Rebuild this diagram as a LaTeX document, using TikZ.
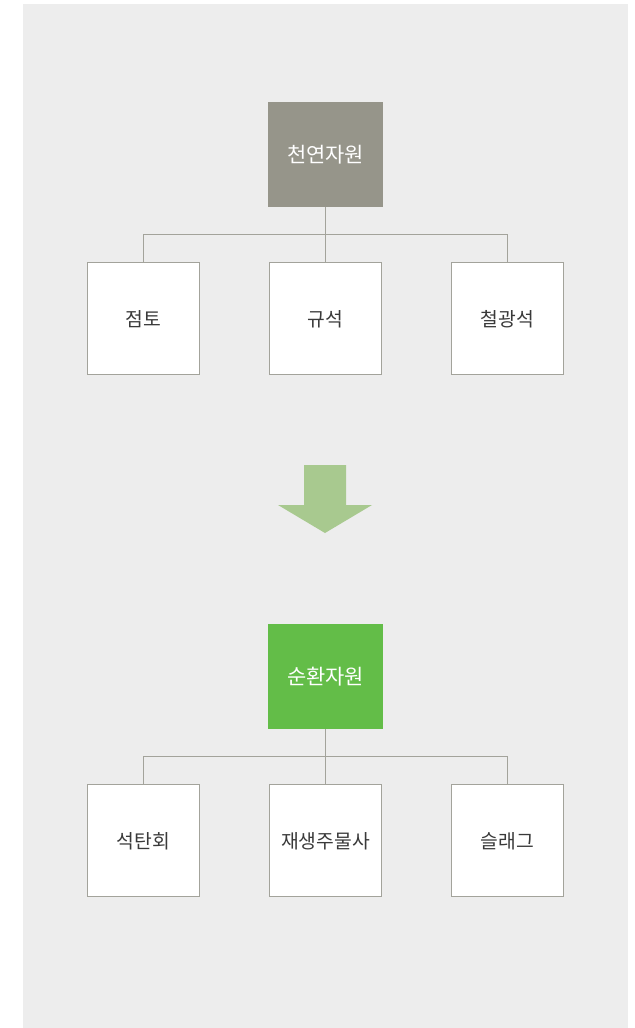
\documentclass[tikz,border=0pt]{standalone}
\usepackage{fontspec}
\setmainfont{Noto Sans CJK KR}
\usetikzlibrary{positioning,calc}
\definecolor{resbg}{HTML}{EDEDED}
\definecolor{resgray}{HTML}{96958A}
\definecolor{resgreen}{HTML}{63BD48}
\definecolor{resarrow}{HTML}{A8C98F}
\definecolor{resline}{HTML}{A3A39B}
\definecolor{resink}{HTML}{3A3A3A}
\tikzset{
  bx/.style={inner sep=0pt, align=center},
  head/.style={bx, minimum width=2.3cm, minimum height=2.1cm, font=\fontsize{11.9}{14}\selectfont, text=white},
  natural/.style={head, fill=resgray},
  recycled/.style={head, fill=resgreen},
  leaf/.style={bx, minimum width=2.24cm, minimum height=2.24cm, draw=resline, fill=white, line width=0.6pt, font=\fontsize{11}{13}\selectfont, text=resink},
  link/.style={draw=resline, line width=0.6pt},
}

\begin{document}
\begin{tikzpicture}[x=0.02cm, y=-0.02cm, node distance=1.1cm and 1.38cm]
  \useasboundingbox (0,0) rectangle (635,1028);
  \fill[resbg] (23,4) rectangle (628,1028);
  % upper tree
  \node[natural] (nat) at (325.5,154.5) {천연자원};
  \node[leaf, below=of nat] (n2) {규석};
  \node[leaf, left=of n2] (n1) {점토};
  \node[leaf, right=of n2] (n3) {철광석};
  \coordinate (nbar) at ($(nat.south)!0.5!(n2.north)$);
  \draw[link] (nat.south) -- (n2.north);
  \draw[link] (n1.north) |- (nbar) -| (n3.north);
  % arrow
  \fill[resarrow] (304,465) -- (346,465) -- (346,505) -- (372,505) -- (325,533)
    -- (278,505) -- (304,505) -- cycle;
  % lower tree
  \node[recycled] (rec) at (325.5,676.5) {순환자원};
  \node[leaf, below=of rec] (r2) {재생주물사};
  \node[leaf, left=of r2] (r1) {석탄회};
  \node[leaf, right=of r2] (r3) {슬래그};
  \coordinate (rbar) at ($(rec.south)!0.5!(r2.north)$);
  \draw[link] (rec.south) -- (r2.north);
  \draw[link] (r1.north) |- (rbar) -| (r3.north);
\end{tikzpicture}
\end{document}
